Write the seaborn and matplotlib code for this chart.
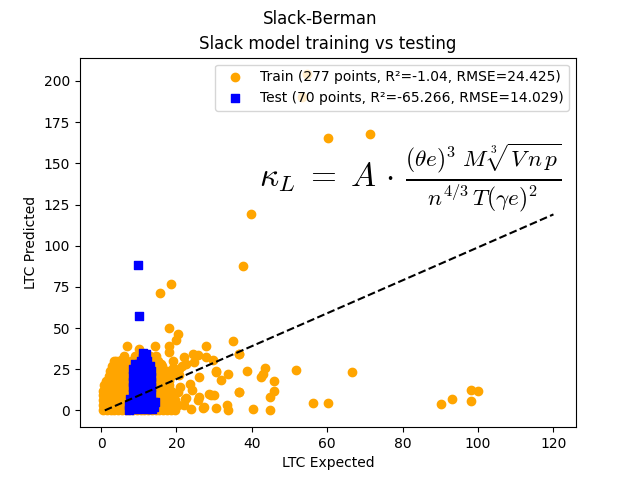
import numpy as np
import seaborn as sns
import matplotlib
matplotlib.use("Agg")
import matplotlib.pyplot as plt

plt.rcParams['mathtext.fontset'] = 'cm'

train_out_x = [71.3, 60.1, 54.5, 53.2, 39.9, 37.6, 18.5, 15.7, 17.9, 20.3, 19.9, 35.1, 36.5, 27.8,
               24.3, 25.6, 27.8, 29.6, 30.5, 33.6, 31.8, 38.7, 42.9, 42.5, 43.6, 46.0, 45.8, 44.9,
               44.9, 36.5, 40.2, 33.4, 33.6, 30.0, 28.7, 26.1, 25.6, 27.1, 23.9, 22.3, 30.5, 26.1,
               20.7, 22.5, 22.1, 24.7, 51.8, 66.6, 56.2, 60.2, 90.2, 93.2, 98.1, 100.1, 98.1, 7.0,
               10.1, 14.3, 17.9, 17.9, 3.5, 5.2, 14.5, 15.9, 18.5, 20.7, 21.6, 30.5, 36.7, 22.5,
               27.4, 36.7, 29.2, 21.0, 23.5, 19.2, 20.5, 24.0, 22.0, 19.0]
train_out_y = [167.9, 165.5, 204.0, 190.0, 119.4, 87.9, 76.8, 71.3, 50.1, 46.5, 42.8, 42.0, 34.1, 38.8,
               34.3, 33.7, 32.3, 30.3, 24.2, 21.8, 18.6, 24.2, 22.2, 20.2, 25.6, 18.0, 11.7, 7.9,
               0.4, 11.1, 1.0, 3.0, 0.0, 9.1, 9.7, 8.1, 6.5, 1.6, 1.0, 7.1, 1.6, 20.2,
               21.2, 28.3, 32.3, 29.3, 24.7, 23.4, 4.7, 4.7, 4.0, 7.1, 12.5, 11.9, 5.5, 39.4,
               37.4, 39.4, 39.4, 35.4, 29.7, 30.3, 33.3, 28.3, 23.8, 25.2, 27.2, 23.6, 34.3, 7.7,
               2.0, 11.1, 9.1, 14.0, 16.0, 30.0, 11.0, 12.5, 3.5, 26.0]

blob_rows = {
    0.5: [0.4, 1.5, 2.6, 3.5, 4.4, 5.5, 6.6, 7.5, 8.5, 9.5, 10.5, 11.5, 12.5, 13.6, 14.5, 15.5, 16.4, 17.5, 18.6, 19.5],
    3.2: [0.4, 1.4, 2.5, 3.6, 4.5, 5.4, 6.5, 7.6, 13.5, 14.6, 15.5, 16.5, 17.4, 18.5, 19.6, 20.5],
    6.1: [0.4, 1.5, 2.4, 3.5, 4.6, 5.5, 6.4, 14.5, 15.4, 16.6, 17.5, 18.4, 19.5],
    9.3: [0.5, 1.6, 2.5, 3.4, 4.5, 5.6, 6.5, 15.0, 16.1, 17.0, 18.2, 19.0],
    12.0: [0.4, 1.5, 2.6, 3.5, 4.4, 5.5, 6.6, 15.2, 16.0, 17.1, 18.5],
    15.2: [0.8, 2.1, 3.0, 4.1, 5.0, 6.1, 7.0, 15.0, 16.2, 17.0, 18.1],
    18.1: [1.2, 2.5, 3.6, 4.5, 5.5, 6.6, 15.1, 16.5, 18.0],
    21.0: [2.0, 3.1, 4.0, 5.1, 6.5, 15.0, 16.6, 18.5],
    24.2: [2.5, 3.5, 4.6, 6.0, 14.5, 16.0, 17.5],
    27.1: [3.0, 4.5, 6.0, 7.5, 14.0, 16.1],
    30.0: [4.0, 6.1, 8.0, 13.5, 15.0],
    33.2: [6.0, 9.0, 13.0],
}
train_x = list(train_out_x)
train_y = list(train_out_y)
for yv, xs in blob_rows.items():
    train_x += xs
    train_y += [yv] * len(xs)

test_x = [11.0, 11.8, 11.2, 10.6, 12.2, 9.0, 10.0, 11.0, 12.0, 13.0,
          8.6, 9.6, 10.8, 12.0, 13.2, 8.6, 9.8, 11.0, 12.2, 13.2,
          8.6, 9.8, 11.0, 12.2, 13.2, 8.6, 9.8, 11.0, 12.2, 13.2,
          8.6, 9.8, 11.0, 12.2, 13.2, 7.6, 8.6, 9.8, 11.0, 12.2,
          13.8, 13.0, 7.3, 7.4, 8.6, 9.8, 11.0, 12.2, 13.4, 14.2,
          14.0, 9.7, 10.1, 9.2, 10.4, 11.6, 12.8, 9.2, 10.4, 11.6,
          12.8, 9.2, 10.4, 11.6, 12.8, 9.2, 10.4, 11.6, 12.8, 10.4]
test_y = [35.0, 34.0, 32.0, 30.0, 30.0, 28.0, 28.0, 27.0, 27.0, 27.0,
          25.0, 24.0, 24.0, 24.0, 24.0, 21.0, 21.0, 21.0, 21.0, 20.0,
          17.0, 17.0, 17.0, 17.0, 17.0, 14.0, 14.0, 14.0, 14.0, 14.0,
          10.0, 10.0, 10.0, 10.0, 10.0, 7.0, 6.0, 6.0, 6.0, 6.0,
          5.0, 3.0, 3.0, 0.5, 2.0, 1.0, 2.0, 1.0, 1.0, 5.0,
          2.0, 88.3, 57.2, 26.0, 26.0, 25.0, 25.0, 19.0, 19.0, 19.0,
          16.0, 12.0, 12.0, 12.0, 12.0, 8.0, 8.0, 8.0, 8.0, 4.0]

line_x = [1, 120]
line_y = [0, 119]

train_label = "Train (277 points, R²=-1.04, RMSE=24.425)"
test_label = "Test (70 points, R²=-65.266, RMSE=14.029)"
formula = (r"$\kappa_L \;=\; A \,\cdot\, "
           r"\frac{(\theta e)^3\; M\; \sqrt[3]{V\, n\, p}}{n^{4/3}\, T (\gamma e)^2}$")

fig, ax = plt.subplots(figsize=(6.4, 4.8), dpi=100)
sns.scatterplot(x=train_x, y=train_y, color="orange", marker="o", s=36,
                edgecolor="orange", linewidth=1, label=train_label, ax=ax)
sns.scatterplot(x=test_x, y=test_y, color="blue", marker="s", s=36,
                edgecolor="blue", linewidth=1, label=test_label, ax=ax)
sns.lineplot(x=line_x, y=line_y, color="black", linestyle="--", ax=ax)

ax.text(0.97, 0.675, formula, transform=ax.transAxes,
        ha="right", va="center", fontsize=24)

ax.set_xlabel("LTC Expected")
ax.set_ylabel("LTC Predicted")
ax.set_title("Slack model training vs testing")
fig.suptitle("Slack-Berman")
ax.legend(loc="upper right")

fig.savefig("out.png")
